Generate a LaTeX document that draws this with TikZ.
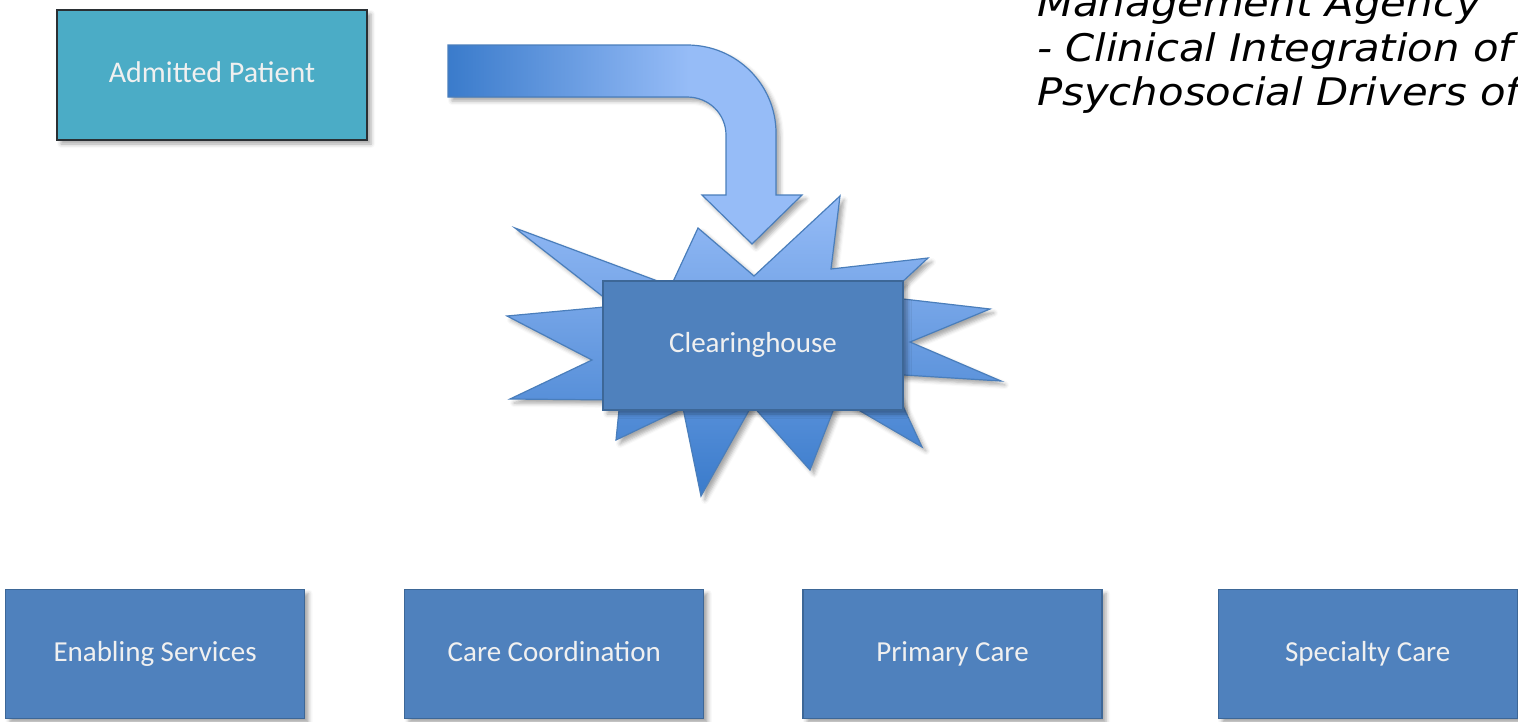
\documentclass[tikz,border=0pt]{standalone}
\usepackage{fontspec}
\setmainfont{Carlito}
\newfontfamily\notefont[FakeStretch=1.1]{DejaVu Sans}
\usepackage{xcolor}
\usetikzlibrary{positioning,shadows.blur}

\definecolor{boxblue}{HTML}{4F81BD}
\definecolor{boxline}{HTML}{3D6797}
\definecolor{tealfill}{HTML}{4BACC6}
\definecolor{tealline}{HTML}{2A2F33}
\definecolor{arrowdark}{HTML}{3A7BCB}
\definecolor{arrowlight}{HTML}{96BCF7}
\definecolor{starline}{HTML}{4A7EBB}

\pgfdeclarehorizontalshading{bentfade}{100bp}{color(0bp)=(arrowdark); color(25bp)=(arrowdark); color(59bp)=(arrowlight); color(100bp)=(arrowlight)}

\begin{document}
\begin{tikzpicture}[
  x=1pt, y=-1pt,
  node distance=98pt,
  softshadow/.style={blur shadow={shadow xshift=4pt, shadow yshift=-4pt,
                     shadow blur radius=4pt, shadow opacity=35}},
  service/.style={rectangle, draw=boxline, fill=boxblue, line width=1.2pt,
                  minimum width=299pt, minimum height=129pt,
                  text height=20pt, text depth=6pt,
                  text=white!94!black, font=\fontsize{29}{34}\selectfont, softshadow},
  entry/.style={service, draw=tealline, fill=tealfill,
                minimum width=310pt, minimum height=130pt, font=\fontsize{30}{35}\selectfont},
  hub/.style={service, minimum width=300pt},
  note/.style={align=left, inner sep=0pt,
               font=\notefont\itshape\fontsize{38}{44.5}\selectfont},
  burst/.style={draw=starline, line width=1.2pt, line join=miter,
                top color=arrowlight, bottom color=arrowdark, softshadow},
  bent/.style={draw=starline, line width=1.2pt, shading=bentfade, softshadow}
]
\useasboundingbox (0,0) rectangle (1518,721);
\clip (0,0) rectangle (1518,721);

% block arrow into the clearinghouse
\path[bent] (448,45) -- (687,45) .. controls (737,45) and (776,85) .. (776,133)
  -- (776,195) -- (802,195) -- (752,244) -- (702,195) -- (726,195) -- (726,135)
  .. controls (726,114) and (709,97) .. (687,97) -- (448,97) -- cycle;

% explosion behind the clearinghouse
\path[burst] (515,228) -- (671,286) -- (698,228) -- (754,276) -- (840,196)
  -- (831,269) -- (928,258) -- (886,297) -- (990,309) -- (910,342)
  -- (1001,381) -- (888,374) -- (922,447) -- (838,398) -- (810,470)
  -- (752,405) -- (701,496) -- (683,408) -- (616,440) -- (620,400)
  -- (510,399) -- (592,360) -- (507,316) -- (615,306) -- cycle;

\node[entry] (admit) at (212,75) {Admitted Patient};
\node[hub] (house) at (753,345.5) {Clearinghouse};

\node[service, anchor=north west] (enabling) at (5,589) {Enabling Services};
\node[service, right=99pt of enabling] (coord) {Care Coordination};
\node[service, right=of coord] (primary) {Primary Care};
\node[service, right=115pt of primary] (specialty) {Specialty Care};

\node[note, anchor=north west] (remark) at (1037,-11)
  {Management Agency\\- Clinical Integration of\\Psychosocial Drivers of};
\end{tikzpicture}
\end{document}
